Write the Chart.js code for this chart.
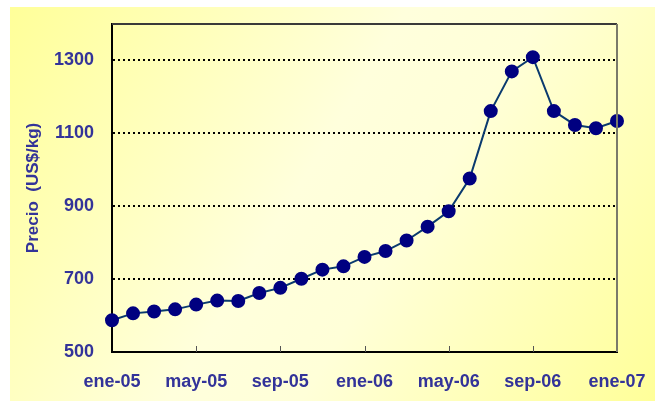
<!DOCTYPE html>
<html>
<head>
<meta charset="utf-8">
<script src="https://cdn.jsdelivr.net/npm/chart.js@4/dist/chart.umd.min.js"></script>
<style>
html,body{margin:0;padding:0;background:#fff;}
#wrap{width:655px;height:401px;position:relative;}
</style>
</head>
<body>
<div id="wrap"><canvas id="c" width="655" height="401"></canvas></div>
<script>
const months = ['ene-05','feb-05','mar-05','abr-05','may-05','jun-05','jul-05','ago-05','sep-05','oct-05','nov-05','dic-05',
  'ene-06','feb-06','mar-06','abr-06','may-06','jun-06','jul-06','ago-06','sep-06','oct-06','nov-06','dic-06','ene-07'];
const precio = [587,606,611,617,630,641,640,662,676,701,726,735,761,777,806,844,886,976,1161,1270,1309,1161,1123,1114,1134];
const yTicks = [500,700,900,1100,1300];
const yTitle = 'Precio  (US$/kg)';

const textColor = '#333399';
const font = {family:'"Liberation Sans", Arial, sans-serif', weight:'bold', size:18};

const bgPlugin = {
  id:'bg',
  beforeDraw(chart){
    const ctx = chart.ctx;
    const x0=10, y0=7, x1=chart.width, y1=chart.height;
    const g = ctx.createLinearGradient(x0,y0,x1,y1);
    g.addColorStop(0,'#ffff99');
    g.addColorStop(0.45,'#ffffdc');
    g.addColorStop(0.6,'#ffffd8');
    g.addColorStop(1,'#ffff99');
    ctx.save();
    ctx.fillStyle = g;
    ctx.fillRect(x0,y0,x1-x0,y1-y0);
    ctx.restore();
  }
};

const framePlugin = {
  id:'frame',
  afterDatasetsDraw(chart){
    const {ctx, chartArea:a, scales} = chart;
    ctx.save();
    ctx.lineWidth = 2;
    ctx.strokeStyle = '#3a3a3a';
    ctx.beginPath(); ctx.moveTo(a.left, a.top); ctx.lineTo(a.right, a.top); ctx.stroke();
    ctx.strokeStyle = '#7a7a6a';
    ctx.beginPath(); ctx.moveTo(a.right, a.top); ctx.lineTo(a.right, a.bottom); ctx.stroke();
    ctx.strokeStyle = '#555';
    ctx.lineWidth = 1;
    months.forEach((m,i)=>{
      if(i%4===0 && i>0 && i<months.length-1){
        const x = Math.round(scales.x.getPixelForValue(i))+0.5;
        ctx.beginPath(); ctx.moveTo(x, a.bottom); ctx.lineTo(x, a.bottom-6); ctx.stroke();
      }
    });
    ctx.restore();
  }
};

new Chart(document.getElementById('c'), {
  type:'line',
  data:{
    labels: months,
    datasets:[{
      data: precio,
      borderColor:'#0a3a6e',
      borderWidth:2,
      pointBackgroundColor:'#000080',
      pointBorderColor:'#000080',
      pointRadius:6,
      pointHoverRadius:6,
      tension:0,
      clip:false
    }]
  },
  options:{
    responsive:false,
    animation:false,
    devicePixelRatio:1,
    layout:{padding:{left:10, top:24, right:38, bottom:0}},
    plugins:{legend:{display:false}, tooltip:{enabled:false}},
    scales:{
      x:{
        offset:false,
        grid:{display:false, drawTicks:false},
        border:{display:true, color:'#000', width:2},
        ticks:{
          autoSkip:false, maxRotation:0, minRotation:0,
          color:textColor, font:font, padding:19,
          callback:(v,i)=> i%4===0 ? months[i] : ''
        },
        afterFit(s){ s.height = 49; s.paddingLeft = 0; s.paddingRight = 0; }
      },
      y:{
        min:500, max:1400,
        afterBuildTicks(s){ s.ticks = yTicks.map(v=>({value:v})); },
        grid:{
          drawTicks:false,
          color:(c)=> c.tick && c.tick.value===500 ? 'rgba(0,0,0,0)' : '#000',
          lineWidth:2
        },
        border:{display:true, color:'#000', width:2, dash:[2,3]},
        ticks:{color:textColor, font:font, padding:18, callback:(v)=> String(v)},
        title:{display:true, text:yTitle, color:textColor,
          font:{family:'"Liberation Sans", Arial, sans-serif', weight:'bold', size:17}, padding:{top:13, bottom:0}},
        afterFit(s){ s.width = 102; s.paddingTop = 0; s.paddingBottom = 0; }
      }
    }
  },
  plugins:[bgPlugin, framePlugin]
});
</script>
</body>
</html>
